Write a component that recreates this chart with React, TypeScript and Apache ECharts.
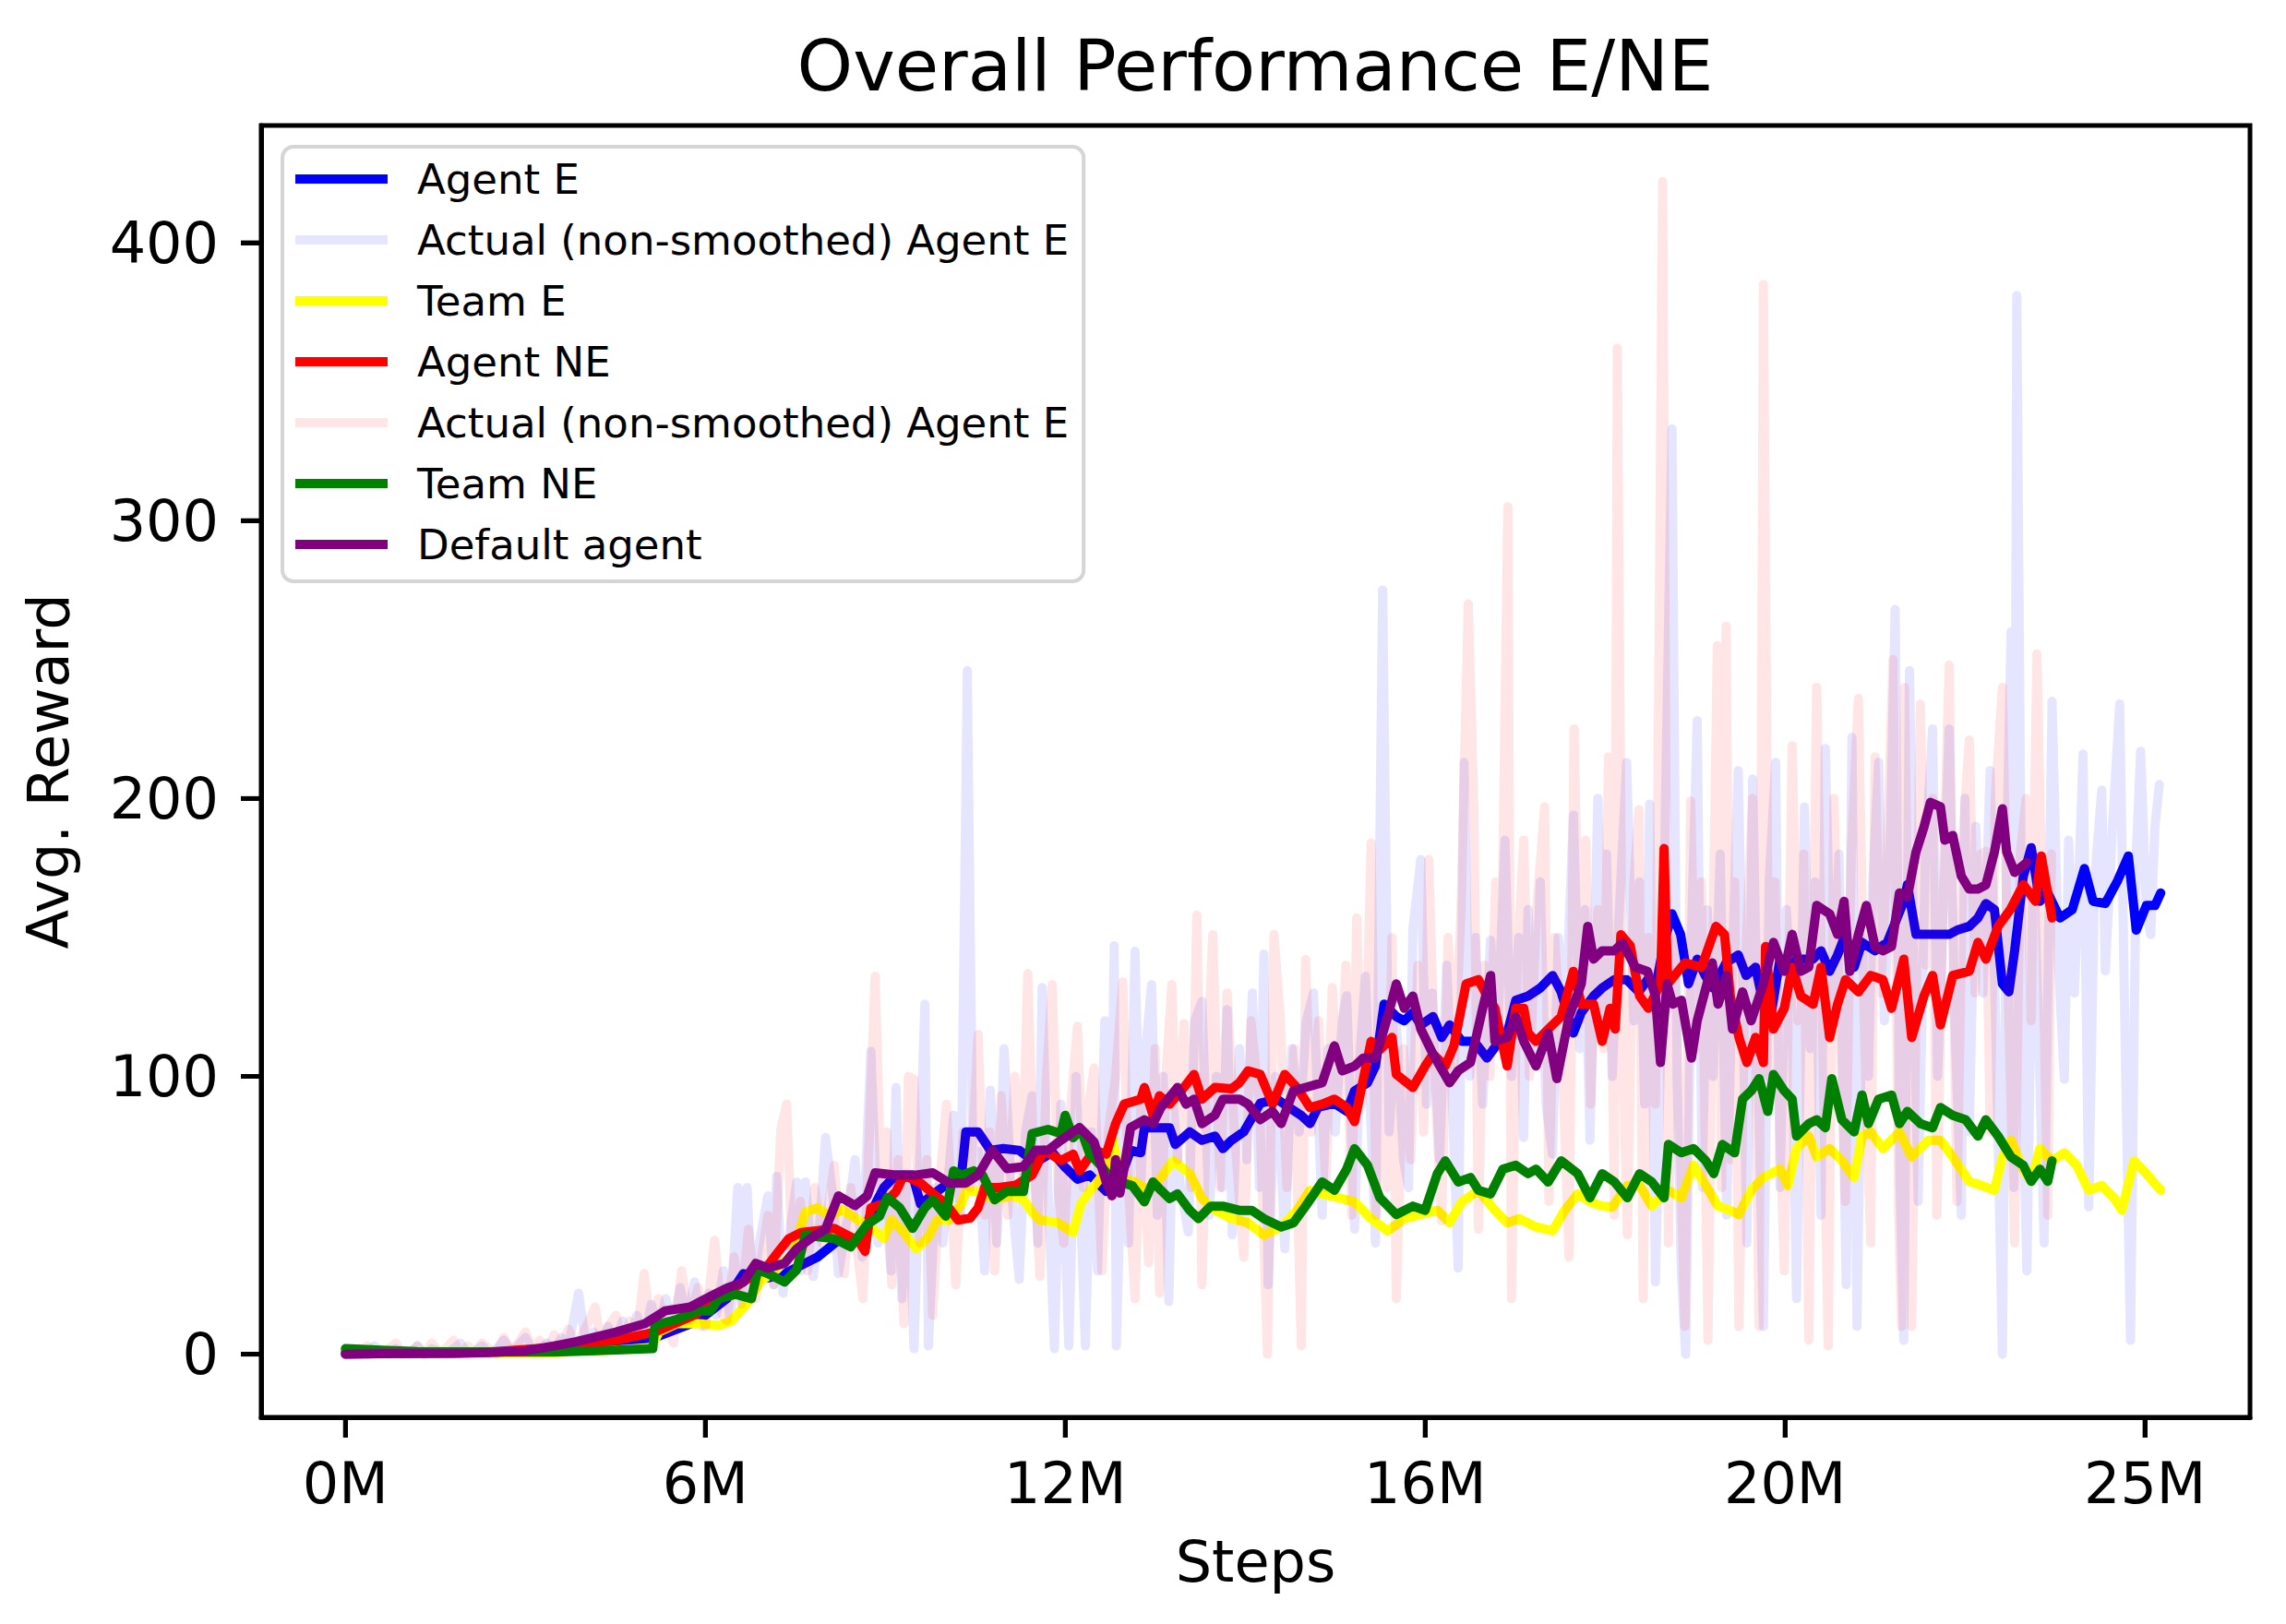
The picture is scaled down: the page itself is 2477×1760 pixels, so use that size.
import React, { useEffect, useRef } from "react";
import * as echarts from "echarts";

const chartTitle = "Overall Performance E/NE";
const xAxisTitle = "Steps";
const yAxisTitle = "Avg. Reward";
const xTickValues = [0, 5, 10, 15, 20, 25];
const xTickLabels = ["0M", "6M", "12M", "16M", "20M", "25M"];
const yTickValues = [0, 100, 200, 300, 400];
const X_MIN = -1.17;
const X_MAX = 26.46;
const Y_MIN = -22.7;
const Y_MAX = 442.2;

const seriesNames = [
  "Agent E",
  "Actual (non-smoothed) Agent E",
  "Team E",
  "Agent NE",
  "Actual (non-smoothed) Agent NE",
  "Team NE",
  "Default agent",
];
const legendLabels = [
  "Agent E",
  "Actual (non-smoothed) Agent E",
  "Team E",
  "Agent NE",
  "Actual (non-smoothed) Agent E",
  "Team NE",
  "Default agent",
];
const seriesColors = [
  "#0000ff",
  "rgba(0,0,255,0.1)",
  "#ffff00",
  "#ff0000",
  "rgba(255,0,0,0.1)",
  "#008000",
  "#800080",
];

const agentE = [
  [0, 0.5], [0.5, 0.3], [1.0, 0.4], [1.5, 0.5], [2.0, 0.8], [2.5, 1.2], [2.9, 2.5], [3.3, 3], [3.8, 4], [4.3, 6],
  [4.9, 12], [5.3, 20], [5.53, 29], [5.87, 27.5], [6.1, 29], [6.33, 32], [6.56, 35], [6.85, 41], [7.0, 39.3], [7.19, 43.8],
  [7.36, 54], [7.48, 60], [7.65, 64.5], [7.88, 64.5], [7.99, 54], [8.22, 58.6], [8.45, 63], [8.56, 64.5], [8.62, 80], [8.79, 80],
  [8.96, 73.4], [9.14, 74], [9.36, 73.4], [9.59, 69], [9.82, 72.7], [9.99, 67.5], [10.17, 63], [10.34, 64.5], [10.57, 58.6], [10.74, 61.6],
  [10.91, 73.4], [11.05, 72.5], [11.1, 81.5], [11.28, 81.5], [11.45, 81.5], [11.53, 75.5], [11.73, 80], [11.9, 77], [12.08, 78.5], [12.19, 74],
  [12.31, 77], [12.48, 80], [12.71, 90.3], [12.94, 91.8], [13.11, 88.8], [13.28, 85.9], [13.4, 83], [13.51, 88.8], [13.74, 90.3], [13.91, 87.4],
  [14.02, 94.8], [14.2, 97.7], [14.31, 103.7], [14.43, 126], [14.6, 121.5], [14.71, 120], [14.83, 123], [14.94, 118.5], [15.11, 121.5], [15.23, 114],
  [15.34, 118.5], [15.51, 112.6], [15.68, 112.6], [15.86, 106.6], [16.03, 112.6], [16.14, 115.6], [16.26, 127.4], [16.43, 128.9], [16.6, 131.8], [16.77, 136.3],
  [16.89, 130.4], [17.06, 115.6], [17.17, 123], [17.34, 128.9], [17.46, 131.8], [17.63, 134.8], [17.8, 134.8], [17.97, 130.4], [18.09, 134.8], [18.2, 131.8],
  [18.32, 148], [18.43, 158.5], [18.55, 151], [18.66, 133.3], [18.78, 142.2], [18.89, 136.3], [19.0, 131.8], [19.18, 140.8], [19.35, 143.7], [19.46, 136.3],
  [19.59, 139.3], [19.7, 126], [19.82, 124.5], [19.93, 142.2], [20.04, 137.8], [20.16, 142.2], [20.27, 142.2], [20.39, 142.2], [20.5, 145.2], [20.62, 137.8],
  [20.73, 143.7], [20.84, 151.1], [20.96, 139.3], [21.07, 148.2], [21.25, 145.2], [21.42, 148.2], [21.65, 163], [21.7, 169], [21.82, 151.1], [21.99, 151.1],
  [22.16, 151.1], [22.28, 151.1], [22.39, 152.6], [22.56, 154], [22.68, 157], [22.79, 162.2], [22.91, 160], [23.02, 133.3], [23.11, 130.4], [23.19, 145.2],
  [23.31, 171.9], [23.42, 182.3], [23.54, 163], [23.65, 166], [23.82, 157], [23.99, 160], [24.16, 174.8], [24.28, 163], [24.45, 162.2], [24.62, 170.4],
  [24.77, 179.3], [24.88, 152.6], [25.02, 161.5], [25.14, 161.5], [25.22, 166],
];

const rawAgentE = [
  [0.0, 1], [0.1, 0], [0.2, 2], [0.3, 0], [0.4, 3], [0.5, 1], [0.6, 0], [0.7, 2], [0.8, 1], [0.9, 0],
  [1.0, 3], [1.1, 0], [1.2, 2], [1.3, 1], [1.4, 0], [1.5, 2], [1.6, 4], [1.7, 0], [1.8, 1], [1.9, 3],
  [2.0, 0], [2.1, 2], [2.2, 5], [2.3, 1], [2.4, 3], [2.5, 6], [2.6, 1], [2.7, 2], [2.8, 4], [2.9, 1],
  [3.0, 6], [3.1, 3], [3.24, 22], [3.35, 2], [3.45, 8], [3.55, 3], [3.65, 10], [3.75, 4], [3.85, 12], [3.95, 5],
  [4.05, 14], [4.15, 6], [4.25, 18], [4.35, 8], [4.45, 20], [4.55, 10], [4.65, 24], [4.75, 12], [4.85, 26], [4.95, 10],
  [5.05, 22], [5.15, 14], [5.25, 30], [5.35, 12], [5.45, 60], [5.52, 18], [5.58, 60], [5.65, 20], [5.75, 40], [5.87, 57],
  [5.95, 25], [5.99, 64], [6.08, 22], [6.18, 45], [6.27, 62], [6.33, 30], [6.39, 62], [6.5, 28], [6.6, 50], [6.67, 78],
  [6.78, 55], [6.85, 29], [6.95, 45], [7.08, 70], [7.18, 35], [7.3, 109], [7.4, 40], [7.48, 62], [7.58, 30], [7.65, 96],
  [7.73, 20], [7.82, 60], [7.9, 2], [7.98, 70], [8.05, 126], [8.1, 3], [8.2, 60], [8.3, 40], [8.45, 86], [8.55, 50],
  [8.64, 246], [8.72, 60], [8.79, 73], [8.88, 30], [8.96, 95], [9.05, 40], [9.15, 110], [9.25, 60], [9.36, 27], [9.45, 80],
  [9.54, 93], [9.62, 40], [9.68, 132], [9.76, 60], [9.85, 2], [9.94, 90], [10.05, 3], [10.15, 100], [10.28, 3], [10.36, 80],
  [10.45, 30], [10.55, 120], [10.64, 60], [10.68, 147], [10.71, 3], [10.8, 90], [10.88, 40], [10.97, 145], [11.05, 60], [11.12, 110],
  [11.2, 133], [11.28, 50], [11.36, 100], [11.44, 19], [11.5, 90], [11.6, 60], [11.71, 44], [11.8, 120], [11.9, 127], [12.0, 50],
  [12.1, 100], [12.18, 60], [12.25, 124], [12.32, 43], [12.42, 110], [12.52, 70], [12.6, 130], [12.7, 60], [12.76, 144], [12.82, 25],
  [12.92, 100], [13.0, 70], [13.05, 38], [13.15, 110], [13.25, 80], [13.35, 120], [13.45, 130], [13.57, 50], [13.65, 110], [13.75, 80],
  [13.85, 120], [13.91, 129], [14.02, 45], [14.1, 110], [14.17, 136], [14.31, 40], [14.41, 275], [14.5, 80], [14.6, 120], [14.7, 70],
  [14.77, 60], [14.83, 153], [14.94, 178], [15.02, 90], [15.1, 130], [15.2, 70], [15.3, 140], [15.38, 90], [15.46, 31], [15.54, 213],
  [15.62, 100], [15.7, 150], [15.8, 90], [15.91, 149], [16.0, 110], [16.11, 185], [16.2, 100], [16.3, 150], [16.37, 78], [16.43, 160],
  [16.52, 110], [16.6, 170], [16.68, 90], [16.77, 72], [16.85, 150], [16.95, 120], [17.06, 194], [17.15, 110], [17.22, 160], [17.29, 77],
  [17.4, 200], [17.47, 120], [17.52, 180], [17.6, 100], [17.68, 150], [17.8, 213], [17.9, 120], [17.98, 170], [18.05, 90], [18.12, 198],
  [18.2, 26], [18.3, 140], [18.43, 333], [18.5, 100], [18.56, 30], [18.62, 0], [18.7, 150], [18.78, 228], [18.85, 60], [18.92, 160],
  [19.0, 100], [19.1, 180], [19.19, 50], [19.28, 150], [19.35, 210], [19.42, 120], [19.47, 40], [19.55, 207], [19.62, 110], [19.7, 10],
  [19.78, 170], [19.87, 213], [19.93, 60], [20.02, 160], [20.1, 120], [20.16, 20], [20.27, 197], [20.35, 110], [20.42, 170], [20.5, 50],
  [20.56, 218], [20.65, 120], [20.75, 180], [20.85, 25], [20.93, 222], [21.0, 10], [21.08, 150], [21.16, 100], [21.22, 170], [21.3, 213],
  [21.38, 120], [21.45, 170], [21.53, 268], [21.6, 60], [21.65, 5], [21.73, 246], [21.8, 120], [21.85, 55], [21.95, 180], [22.05, 225],
  [22.12, 100], [22.2, 160], [22.28, 225], [22.36, 120], [22.45, 50], [22.5, 200], [22.56, 80], [22.65, 190], [22.75, 130], [22.85, 210],
  [22.95, 90], [23.02, 0], [23.08, 180], [23.14, 260], [23.18, 60], [23.22, 381], [23.3, 100], [23.36, 30], [23.45, 180], [23.52, 120],
  [23.6, 40], [23.71, 235], [23.8, 140], [23.88, 99], [23.94, 185], [24.02, 130], [24.08, 170], [24.14, 216], [24.22, 53], [24.3, 170],
  [24.4, 203], [24.45, 138], [24.55, 190], [24.65, 234], [24.72, 120], [24.8, 5], [24.88, 180], [24.94, 217], [25.02, 160], [25.08, 151],
  [25.14, 190], [25.2, 205],
];

const teamE = [
  [0, 0.3], [1.0, 0.3], [2.0, 0.4], [2.9, 0.6], [3.73, 1.5], [4.25, 2.5], [4.36, 8], [4.61, 11], [4.9, 11], [5.19, 10.4],
  [5.36, 11.9], [5.59, 18.6], [5.76, 26], [5.99, 30.4], [6.22, 36.4], [6.39, 51.2], [6.56, 52.7], [6.73, 49.7], [6.9, 52], [7.13, 48.3],
  [7.36, 44.5], [7.48, 41.6], [7.59, 48.3], [7.76, 43.8], [7.93, 37.9], [8.1, 42.3], [8.22, 48.3], [8.39, 48.3], [8.56, 54.2], [8.62, 58.6],
  [8.79, 58.6], [9.02, 55.6], [9.25, 57], [9.42, 55.6], [9.54, 51.2], [9.65, 48.3], [9.88, 47.5], [10.11, 43.8], [10.22, 54.2], [10.34, 58.6],
  [10.57, 66], [10.65, 79], [10.76, 63.6], [10.97, 62], [11.16, 59], [11.33, 63.6], [11.5, 69.6], [11.73, 65], [11.9, 56], [12.08, 51.8],
  [12.31, 48.8], [12.54, 47.3], [12.76, 42.9], [13.0, 45.8], [13.22, 51.8], [13.4, 59], [13.57, 57.7], [13.8, 56.3], [14.02, 54.8], [14.25, 48.8],
  [14.48, 44.4], [14.71, 48.8], [14.94, 50.3], [15.17, 51.8], [15.34, 47.3], [15.51, 54.8], [15.74, 59], [15.97, 51.8], [16.14, 47.3], [16.31, 48.8],
  [16.54, 45.8], [16.77, 44.4], [16.94, 51.8], [17.12, 57.7], [17.29, 54.8], [17.46, 53.3], [17.6, 53], [17.81, 60.7], [17.98, 60.7], [18.15, 53.3],
  [18.38, 59], [18.56, 56.3], [18.73, 68], [18.9, 60.7], [19.07, 53.3], [19.24, 51.8], [19.36, 50.3], [19.53, 59], [19.7, 63.6], [19.93, 66.6],
  [20.04, 60.7], [20.16, 74], [20.33, 78.5], [20.44, 71], [20.62, 74], [20.79, 69.6], [20.96, 63.6], [21.07, 78.5], [21.19, 80], [21.36, 74],
  [21.59, 80], [21.76, 71], [21.99, 77], [22.16, 77], [22.33, 71], [22.56, 62.2], [22.73, 60.7], [22.91, 59], [23.02, 71], [23.14, 77],
  [23.31, 66.6], [23.42, 62.2], [23.54, 74], [23.71, 69.6], [23.88, 72.5], [24.05, 68], [24.22, 59], [24.4, 60.7], [24.57, 56.3], [24.68, 51.8],
  [24.85, 69.6], [25.02, 65], [25.22, 59],
];

const agentNE = [
  [0, 0.3], [1.0, 0.3], [2.0, 0.8], [2.9, 2.5], [3.76, 5], [4.3, 8], [4.84, 14], [5.47, 25], [5.87, 32], [6.0, 36.4],
  [6.16, 41.6], [6.33, 43.8], [6.56, 44.5], [6.79, 45.3], [6.96, 43], [7.13, 40.8], [7.22, 37], [7.3, 52.7], [7.48, 54.2], [7.65, 58.6],
  [7.76, 64.5], [7.99, 61.6], [8.16, 57.9], [8.34, 54.2], [8.51, 48.3], [8.68, 49], [8.79, 52.7], [8.88, 60], [9.08, 60], [9.31, 60.8],
  [9.54, 64.5], [9.71, 73.4], [9.94, 69.7], [10.11, 72], [10.2, 66], [10.4, 73.4], [10.57, 72], [10.7, 83], [10.82, 90], [11.05, 91.8],
  [11.1, 96], [11.22, 86], [11.31, 93], [11.45, 90], [11.62, 95], [11.79, 100.7], [11.9, 91.8], [12.08, 96], [12.31, 95.5], [12.42, 97.7],
  [12.54, 102], [12.71, 100.7], [12.88, 90], [13.05, 100.7], [13.22, 96], [13.4, 88.8], [13.57, 90], [13.74, 91.8], [13.91, 88.8], [14.02, 83.7],
  [14.25, 112.6], [14.37, 109.6], [14.54, 114], [14.6, 100.7], [14.83, 96], [15.0, 103.7], [15.11, 108], [15.28, 103.7], [15.4, 111], [15.57, 133.3],
  [15.74, 134.8], [15.86, 128.9], [15.97, 124.5], [16.14, 103.7], [16.26, 124.5], [16.37, 124.5], [16.43, 115.6], [16.54, 112.6], [16.77, 118.5], [16.89, 121.5],
  [17.06, 137.8], [17.17, 126], [17.34, 126], [17.46, 112.6], [17.57, 124.5], [17.64, 117], [17.72, 151], [17.85, 147], [17.98, 128.9], [18.1, 124.5],
  [18.27, 133.3], [18.32, 182], [18.37, 133.3], [18.61, 140.8], [18.84, 139.3], [19.04, 154], [19.16, 151], [19.24, 128.9], [19.36, 114], [19.47, 105],
  [19.59, 114], [19.7, 105], [19.73, 146.7], [19.84, 117], [19.99, 124.5], [20.1, 139.3], [20.22, 128.9], [20.39, 126], [20.5, 139.3], [20.62, 114],
  [20.73, 126], [20.84, 134.8], [21.02, 130.4], [21.19, 136.3], [21.36, 134.8], [21.48, 124.5], [21.65, 142.2], [21.76, 114], [21.93, 128.9], [22.05, 136.3],
  [22.16, 118.5], [22.33, 136.3], [22.56, 137.8], [22.68, 148.2], [22.79, 142.2], [22.96, 154], [23.13, 160], [23.31, 169], [23.48, 163], [23.56, 179.3],
  [23.71, 157],
];

const rawAgentNE = [
  [0.0, 0], [0.1, 2], [0.2, 0], [0.3, 3], [0.4, 1], [0.5, 0], [0.6, 2], [0.7, 4], [0.8, 0], [0.9, 1],
  [1.0, 3], [1.1, 0], [1.2, 4], [1.3, 1], [1.4, 2], [1.5, 5], [1.6, 0], [1.7, 3], [1.8, 1], [1.9, 4],
  [2.0, 2], [2.1, 0], [2.2, 6], [2.3, 1], [2.4, 4], [2.5, 8], [2.6, 2], [2.7, 5], [2.8, 1], [2.9, 7],
  [3.0, 2], [3.1, 9], [3.2, 3], [3.35, 10], [3.47, 17], [3.55, 4], [3.65, 10], [3.76, 14], [3.86, 3], [3.95, 12],
  [4.05, 6], [4.15, 29], [4.25, 8], [4.35, 20], [4.45, 10], [4.56, 4], [4.67, 30], [4.78, 12], [4.9, 24], [5.0, 10],
  [5.13, 41], [5.22, 15], [5.3, 12], [5.4, 35], [5.5, 18], [5.6, 45], [5.7, 20], [5.8, 38], [5.87, 50], [5.95, 25],
  [6.05, 81], [6.13, 90], [6.22, 28], [6.32, 55], [6.42, 30], [6.52, 60], [6.62, 40], [6.72, 55], [6.79, 68], [6.86, 45],
  [6.93, 29], [7.02, 60], [7.1, 40], [7.19, 20], [7.28, 80], [7.36, 136], [7.45, 50], [7.52, 80], [7.59, 25], [7.68, 70],
  [7.76, 11], [7.82, 100], [7.9, 99], [7.98, 40], [8.08, 70], [8.16, 14], [8.25, 60], [8.35, 90], [8.48, 25], [8.58, 80],
  [8.68, 60], [8.79, 115], [8.88, 50], [8.95, 80], [9.02, 30], [9.11, 93], [9.2, 50], [9.3, 100], [9.4, 60], [9.48, 137],
  [9.56, 70], [9.65, 28], [9.74, 100], [9.82, 133], [9.9, 60], [9.98, 40], [10.08, 90], [10.17, 118], [10.25, 60], [10.33, 90],
  [10.4, 103], [10.51, 30], [10.6, 80], [10.7, 100], [10.8, 134], [10.88, 60], [10.97, 20], [11.05, 90], [11.16, 33], [11.25, 110],
  [11.31, 22], [11.4, 100], [11.48, 133], [11.56, 70], [11.65, 119], [11.75, 60], [11.83, 158], [11.9, 25], [12.0, 120], [12.05, 151],
  [12.15, 60], [12.25, 130], [12.35, 80], [12.48, 35], [12.58, 120], [12.7, 90], [12.81, 0], [12.9, 151], [12.99, 120], [13.08, 60],
  [13.18, 110], [13.28, 3], [13.34, 142], [13.42, 80], [13.52, 120], [13.62, 60], [13.71, 132], [13.8, 90], [13.9, 140], [13.98, 50],
  [14.05, 157], [14.12, 90], [14.2, 130], [14.25, 184], [14.32, 50], [14.4, 120], [14.47, 60], [14.54, 150], [14.6, 20], [14.7, 110],
  [14.8, 70], [14.9, 140], [14.98, 80], [15.05, 178], [15.15, 90], [15.23, 48], [15.32, 150], [15.4, 100], [15.5, 160], [15.6, 270],
  [15.68, 194], [15.74, 45], [15.82, 140], [15.9, 100], [15.98, 170], [16.05, 120], [16.15, 305], [16.2, 20], [16.28, 140], [16.37, 185],
  [16.45, 100], [16.55, 160], [16.66, 197], [16.72, 55], [16.8, 150], [16.9, 110], [17.0, 35], [17.07, 225], [17.15, 120], [17.23, 185],
  [17.3, 90], [17.4, 160], [17.48, 110], [17.55, 215], [17.63, 50], [17.67, 362], [17.74, 120], [17.81, 43], [17.9, 170], [17.97, 196],
  [18.03, 20], [18.1, 150], [18.2, 90], [18.3, 422], [18.38, 40], [18.45, 150], [18.52, 100], [18.61, 10], [18.69, 199], [18.76, 110],
  [18.84, 170], [18.93, 5], [19.0, 150], [19.06, 255], [19.12, 60], [19.18, 262], [19.25, 70], [19.3, 170], [19.36, 10], [19.45, 140],
  [19.55, 200], [19.64, 10], [19.7, 385], [19.78, 100], [19.86, 170], [19.93, 80], [19.99, 30], [20.1, 219], [20.18, 120], [20.26, 180],
  [20.33, 5], [20.4, 160], [20.44, 240], [20.52, 120], [20.6, 3], [20.68, 200], [20.73, 150], [20.84, 55], [20.92, 180], [21.02, 236],
  [21.1, 120], [21.19, 40], [21.25, 215], [21.33, 130], [21.42, 180], [21.5, 250], [21.58, 50], [21.62, 10], [21.66, 240], [21.72, 130],
  [21.76, 10], [21.88, 234], [21.96, 140], [22.05, 200], [22.11, 50], [22.2, 170], [22.28, 248], [22.35, 120], [22.39, 55], [22.48, 190],
  [22.56, 221], [22.64, 130], [22.72, 180], [22.79, 181], [22.85, 80], [22.92, 200], [23.02, 240], [23.1, 130], [23.19, 40], [23.27, 180],
  [23.35, 200], [23.42, 120], [23.5, 252], [23.58, 150], [23.65, 50], [23.7, 180],
];

const teamNE = [
  [0, 2], [0.5, 1.5], [1.0, 1], [2.0, 0.8], [2.9, 0.8], [3.76, 1.5], [4.27, 2], [4.3, 10.4], [4.61, 12.6], [4.9, 15.6],
  [5.07, 15.6], [5.19, 20], [5.42, 21.6], [5.64, 20], [5.73, 30.4], [5.87, 29], [6.1, 26], [6.27, 30.4], [6.39, 43], [6.56, 42.3],
  [6.79, 41.6], [7.02, 38.6], [7.25, 46.8], [7.42, 49.7], [7.53, 56.4], [7.7, 52.7], [7.88, 45.3], [8.05, 52.7], [8.16, 55.6], [8.34, 49.7],
  [8.45, 66], [8.56, 64.5], [8.73, 66], [8.85, 64.5], [9.02, 55.6], [9.19, 58.6], [9.42, 58.6], [9.54, 79.4], [9.76, 80.9], [9.94, 79.4],
  [10.0, 86], [10.11, 77.9], [10.22, 80.9], [10.34, 72], [10.51, 67.5], [10.68, 61.6], [10.76, 62], [10.93, 60.7], [11.1, 54.8], [11.22, 62],
  [11.33, 59], [11.45, 56], [11.56, 57.7], [11.73, 51.8], [11.85, 48.8], [12.02, 53.3], [12.19, 53.3], [12.42, 51.8], [12.59, 51.8], [12.76, 48.8],
  [13.0, 45.8], [13.17, 47.3], [13.34, 53.3], [13.57, 62], [13.74, 59], [13.91, 66.6], [14.02, 74], [14.2, 68], [14.37, 56.3], [14.6, 50.3],
  [14.83, 53.3], [15.0, 51.8], [15.17, 65], [15.28, 69.6], [15.46, 62], [15.63, 63.6], [15.74, 59], [15.91, 57.7], [16.08, 66.6], [16.26, 68],
  [16.43, 65], [16.54, 66.6], [16.71, 62], [16.89, 69.6], [17.12, 65], [17.29, 56.3], [17.46, 65], [17.63, 62], [17.81, 56.3], [17.98, 65],
  [18.15, 62], [18.32, 56.3], [18.38, 75.5], [18.56, 72.5], [18.73, 74], [18.9, 69.6], [19.01, 65], [19.13, 75.5], [19.3, 72.5], [19.41, 91.8],
  [19.53, 94.8], [19.64, 99.2], [19.76, 87.4], [19.84, 100.7], [19.99, 94.8], [20.1, 91.8], [20.16, 78.5], [20.33, 83], [20.44, 84.4], [20.56, 81.5],
  [20.65, 99.2], [20.79, 84.4], [20.96, 80], [21.07, 93.3], [21.16, 83], [21.3, 91.8], [21.48, 93.3], [21.59, 83], [21.7, 87.4], [21.88, 83],
  [22.05, 81.5], [22.16, 88.8], [22.33, 86], [22.51, 84.4], [22.68, 78.5], [22.79, 84.4], [22.96, 78.5], [23.14, 71], [23.31, 68], [23.42, 62.2],
  [23.54, 66.6], [23.65, 62.2], [23.71, 69.6],
];

const defaultAgent = [
  [0, 0], [0.5, 0.2], [1.0, 0.3], [1.5, 0.3], [2.0, 0.6], [2.5, 1.2], [2.9, 3], [3.2, 4.5], [3.76, 8], [4.16, 11],
  [4.44, 15.6], [4.79, 17], [5.07, 20.8], [5.3, 23.8], [5.53, 26], [5.7, 32.7], [5.87, 31], [6.1, 32.7], [6.27, 38], [6.5, 42.3],
  [6.67, 45], [6.85, 57], [7.08, 53.5], [7.25, 57], [7.36, 65.3], [7.65, 64.5], [7.93, 64.5], [8.16, 65.3], [8.39, 61.6], [8.62, 61.6],
  [8.79, 64.5], [8.99, 73.4], [9.19, 66.8], [9.42, 67.5], [9.59, 73.4], [9.76, 73.4], [9.94, 77], [10.2, 81.6], [10.4, 76.4], [10.57, 62],
  [10.65, 57], [10.7, 70], [10.76, 58], [10.91, 81.6], [11.1, 84.4], [11.22, 83], [11.33, 88.8], [11.56, 96], [11.68, 90], [11.79, 91.8],
  [11.9, 83], [12.08, 86], [12.19, 91.8], [12.42, 91.8], [12.54, 90], [12.71, 84.4], [12.88, 87.4], [13.0, 83], [13.17, 94.8], [13.34, 96],
  [13.57, 97.7], [13.74, 111], [13.85, 102], [14.02, 103.7], [14.14, 106.6], [14.31, 106.6], [14.48, 121.5], [14.6, 133.3], [14.71, 124.5], [14.83, 128.9],
  [14.94, 117], [15.11, 108], [15.34, 97.7], [15.46, 102], [15.63, 105], [15.8, 124.5], [15.91, 136.3], [15.97, 112.6], [16.14, 114], [16.26, 121.5],
  [16.37, 112.6], [16.54, 103.7], [16.71, 115.6], [16.83, 99.2], [17.0, 121.5], [17.17, 133.3], [17.26, 154], [17.34, 142.2], [17.46, 145.2], [17.63, 145.2],
  [17.74, 148], [17.92, 139.3], [18.09, 137.8], [18.2, 128.9], [18.27, 105], [18.36, 133.3], [18.44, 126], [18.56, 127.4], [18.7, 106.6], [18.78, 120],
  [18.9, 131.8], [18.99, 140.8], [19.07, 126], [19.19, 136.3], [19.27, 117], [19.41, 130.4], [19.53, 120], [19.7, 133.3], [19.84, 148.2], [19.99, 137.8],
  [20.1, 151.1], [20.22, 137.8], [20.33, 139.3], [20.44, 161.5], [20.62, 158.5], [20.73, 151.1], [20.82, 163], [20.9, 137.8], [21.02, 151.1], [21.13, 161.5],
  [21.25, 146.7], [21.36, 145.2], [21.48, 146.7], [21.59, 166], [21.7, 164.5], [21.82, 180.8], [21.93, 189.7], [22.02, 198.6], [22.16, 197], [22.22, 185],
  [22.33, 186.7], [22.45, 172], [22.56, 167.4], [22.68, 167.4], [22.79, 168.9], [22.91, 180.8], [23.02, 196.3], [23.08, 180.8], [23.19, 173.4], [23.36, 177],
];

const seriesData = [agentE, rawAgentE, teamE, agentNE, rawAgentNE, teamNE, defaultAgent];

const FONT = "DejaVu Sans";
const TICK_LEN = 22;
const TICK_W = 5;

const titleGraphic = {
  type: "text",
  x: 1360,
  y: 71,
  style: {
    text: chartTitle,
    fontSize: 77,
    fontFamily: FONT,
    fill: "#000",
    align: "center",
    verticalAlign: "middle",
  },
};

function buildOption() {
  const lineSeries = seriesNames.map((name, i) => ({
    name,
    type: "line",
    data: seriesData[i],
    showSymbol: false,
    symbol: "none",
    silent: true,
    clip: true,
    color: seriesColors[i],
    lineStyle: { color: seriesColors[i], width: 10, join: "round", cap: "round" },
    z: 2 + i,
  }));
  return {
    animation: false,
    backgroundColor: "#ffffff",
    textStyle: { fontFamily: FONT },
    graphic: [titleGraphic],
    grid: {
      left: 283,
      top: 136,
      width: 2155,
      height: 1400,
      show: true,
      borderColor: "#000",
      borderWidth: 5,
    },
    legend: {
      orient: "vertical",
      left: 306,
      top: 159,
      icon: "rect",
      itemWidth: 100,
      itemHeight: 10,
      itemGap: 14,
      padding: [9, 16, 14, 14],
      backgroundColor: "rgba(255,255,255,0.8)",
      borderColor: "#d5d5d5",
      borderWidth: 4,
      borderRadius: 12,
      selectedMode: false,
      data: seriesNames,
      formatter: (name: string) => legendLabels[seriesNames.indexOf(name)],
      textStyle: {
        fontSize: 45,
        lineHeight: 52,
        fontFamily: FONT,
        color: "#000",
        padding: [0, 0, 0, 27],
      },
    },
    xAxis: {
      type: "value",
      min: X_MIN,
      max: X_MAX,
      name: xAxisTitle,
      nameLocation: "middle",
      nameGap: 125,
      nameTextStyle: { fontSize: 62, fontFamily: FONT, color: "#000" },
      axisLine: { show: true, onZero: false, lineStyle: { color: "#000", width: 5 } },
      splitLine: { show: false },
      axisTick: { show: true, length: TICK_LEN, lineStyle: { color: "#000", width: TICK_W }, customValues: xTickValues },
      axisLabel: {
        margin: 40,
        fontSize: 62,
        fontFamily: FONT,
        color: "#000",
        customValues: xTickValues,
        formatter: (v: number) => {
          const i = xTickValues.indexOf(Math.round(v));
          return i >= 0 ? xTickLabels[i] : "";
        },
      },
    },
    yAxis: {
      type: "value",
      min: Y_MIN,
      max: Y_MAX,
      name: yAxisTitle,
      nameLocation: "middle",
      nameGap: 200,
      nameTextStyle: { fontSize: 62, fontFamily: FONT, color: "#000" },
      axisLine: { show: true, onZero: false, lineStyle: { color: "#000", width: 5 } },
      splitLine: { show: false },
      axisTick: { show: true, length: TICK_LEN, lineStyle: { color: "#000", width: TICK_W }, customValues: yTickValues },
      axisLabel: { margin: 46, fontSize: 62, fontFamily: FONT, color: "#000", customValues: yTickValues },
    },
    series: lineSeries,
  };
}

export default function App() {
  const ref = useRef<HTMLDivElement>(null);
  useEffect(() => {
    if (!ref.current) return;
    const chart = echarts.init(ref.current, null, { renderer: "svg" });
    chart.setOption(buildOption() as any);
    // Tick marks placed through the chart's own scales.
    const tickLines: any[] = [];
    yTickValues.forEach((v) => {
      const p = chart.convertToPixel({ gridIndex: 0 }, [X_MIN, v]) as number[];
      tickLines.push({
        type: "line",
        z: 100,
        shape: { x1: p[0] - TICK_LEN, y1: p[1], x2: p[0], y2: p[1] },
        style: { stroke: "#000", lineWidth: TICK_W },
      });
    });
    xTickValues.forEach((v) => {
      const p = chart.convertToPixel({ gridIndex: 0 }, [v, Y_MIN]) as number[];
      tickLines.push({
        type: "line",
        z: 100,
        shape: { x1: p[0], y1: p[1], x2: p[0], y2: p[1] + TICK_LEN },
        style: { stroke: "#000", lineWidth: TICK_W },
      });
    });
    chart.setOption({ graphic: [titleGraphic, ...tickLines] } as any);
    return () => {
      chart.dispose();
    };
  }, []);
  return (
    <div
      ref={ref}
      style={{ position: "fixed", left: 0, top: 0, width: 2477, height: 1760, background: "#ffffff" }}
    />
  );
}
